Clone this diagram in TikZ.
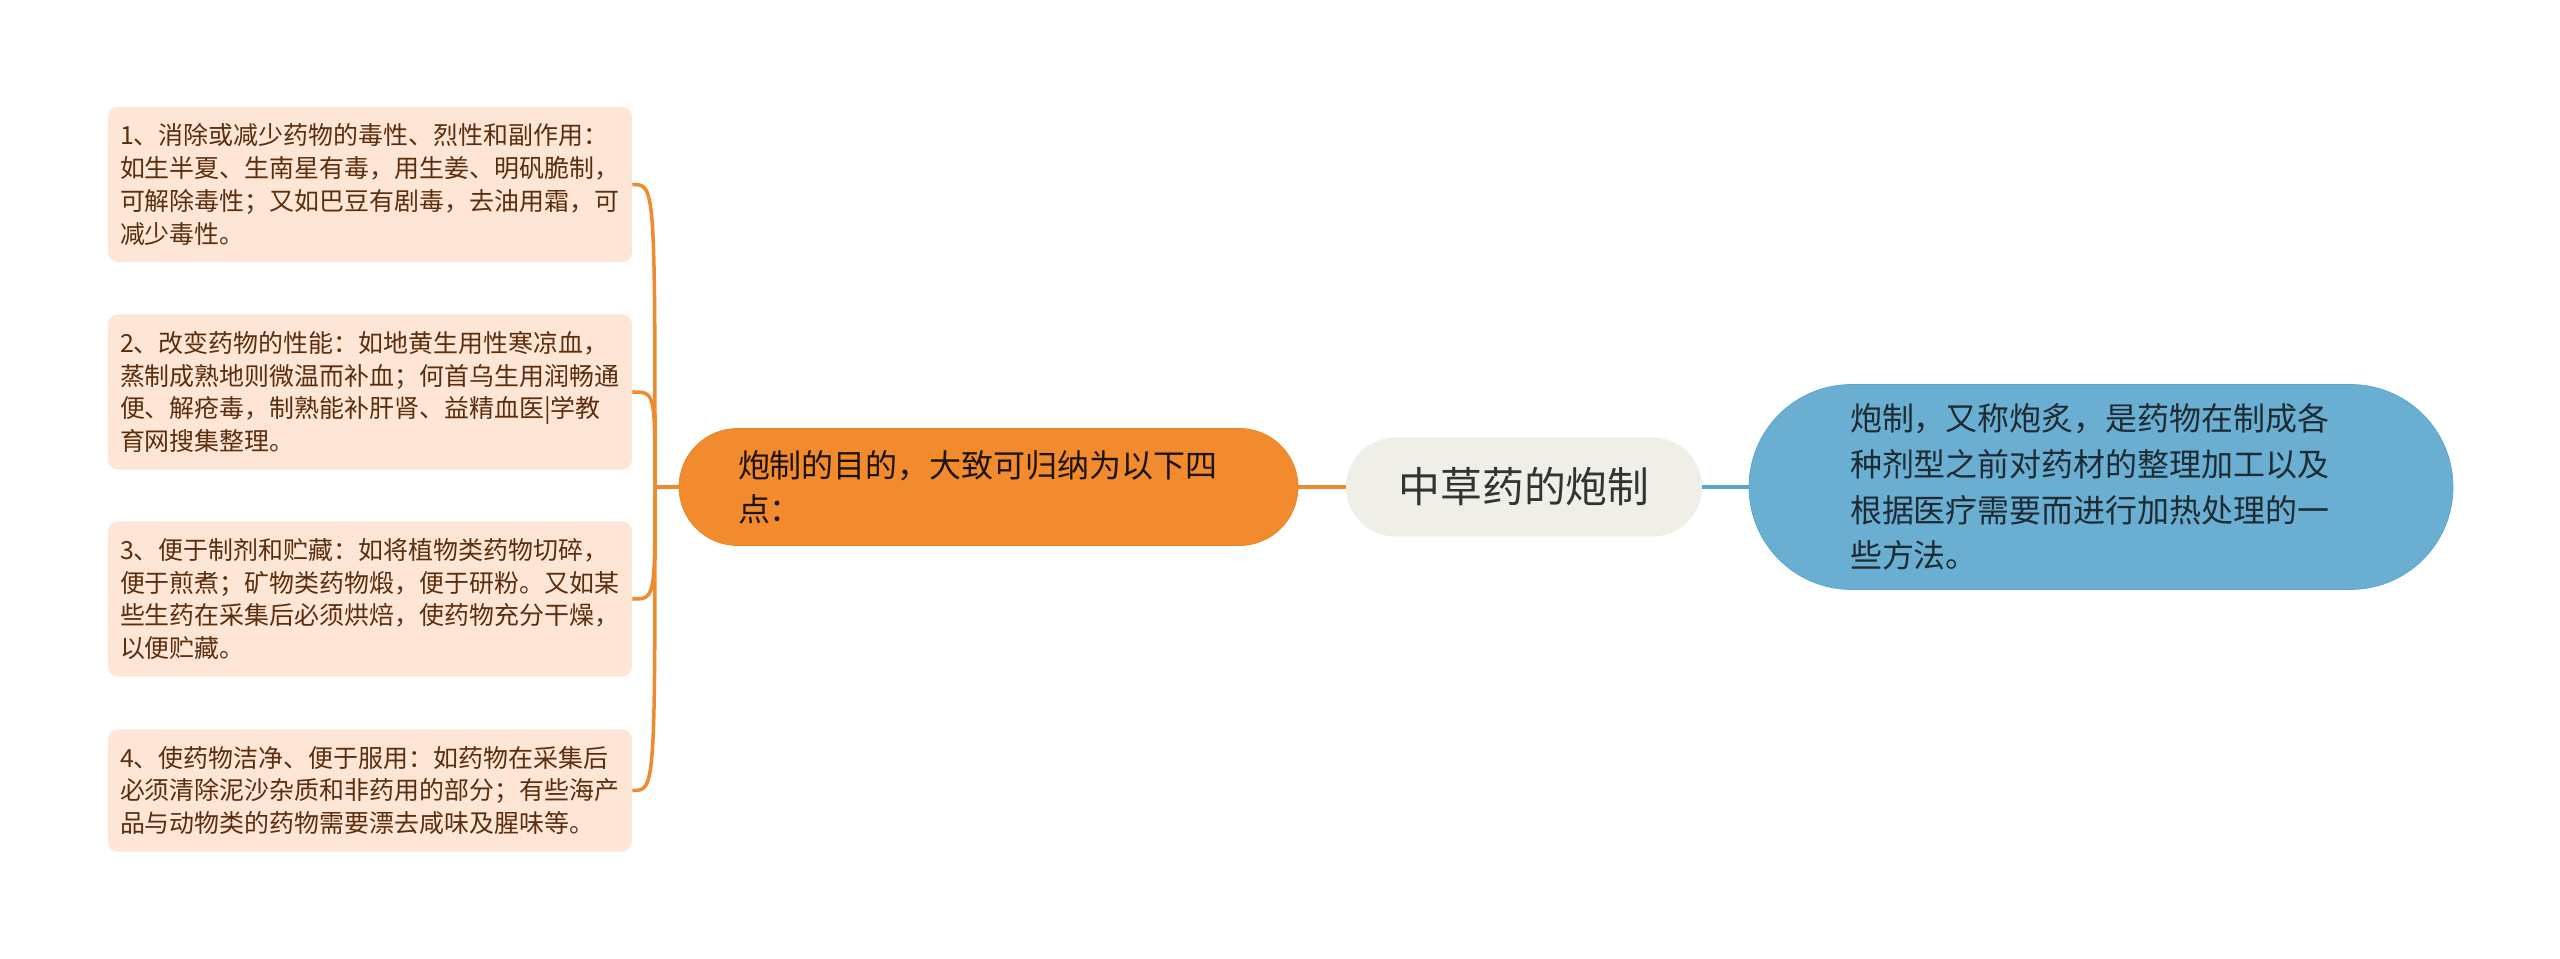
\documentclass[tikz,border=0pt]{standalone}
\usepackage{fontspec}
\setmainfont{Noto Sans CJK SC}
\usepackage{xcolor}
\usepackage{tikz}
\usetikzlibrary{positioning}
\definecolor{leaffill}{HTML}{FDE6D5}
\definecolor{leaftext}{HTML}{5C2E0E}
\definecolor{orline}{HTML}{EF8A2F}
\definecolor{mainfill}{HTML}{F28B2D}
\definecolor{rootfill}{HTML}{EFEFE7}
\definecolor{bluefill}{HTML}{6AAFD2}
\definecolor{blueline}{HTML}{5AA5CF}
\definecolor{bluetext}{HTML}{1E2B33}

\begin{document}
\begin{tikzpicture}[
  leaf/.style={rectangle,fill=leaffill,rounded corners=0.2cm,text=leaftext,
    text width=10cm,align=left,inner xsep=0.24cm,inner ysep=0.34cm,
    minimum width=10.48cm,font=\fontsize{14.2pt}{18.6pt}\selectfont},
  topic/.style={rectangle,fill=mainfill,draw=mainfill!95!black,rounded corners=1.17cm,
    minimum width=12.38cm,minimum height=2.34cm,text width=10.02cm,align=left,
    inner xsep=1.18cm,text=black!85!brown,font=\fontsize{18.2pt}{25pt}\selectfont},
  root/.style={rectangle,fill=rootfill,rounded corners=0.99cm,minimum width=7.12cm,
    minimum height=1.98cm,text=black!80,font=\fontsize{23.8pt}{28pt}\selectfont},
  defn/.style={rectangle,fill=bluefill,draw=blueline,rounded corners=2.05cm,
    minimum width=14.08cm,minimum height=4.1cm,text width=10.04cm,align=left,
    inner xsep=2.02cm,text=bluetext,font=\fontsize{18.2pt}{26pt}\selectfont},
  branch/.style={draw=orline,line width=2pt}]
  \useasboundingbox (0,0) rectangle (51.2,19.16);
  % centre
  \node[root] (zcy) at (30.48,9.42) {中草药的炮制};
  \node[topic] (md) at (19.77,9.42) {炮制的目的，大致可归纳为以下四\\点：};
  \node[defn] (dy) at (42.02,9.42) {炮制，又称炮炙，是药物在制成各\\种剂型之前对药材的整理加工以及\\根据医疗需要而进行加热处理的一\\些方法。};
  \draw[branch] (zcy) -- (md);
  \draw[draw=blueline,line width=2pt] (zcy) -- (dy);
  % four purposes
  \node[leaf] (p1) at (7.40,15.47) {1、消除或减少药物的毒性、烈性和副作用：\\如生半夏、生南星有毒，用生姜、明矾脆制，\\可解除毒性；又如巴豆有剧毒，去油用霜，可\\减少毒性。};
  \node[leaf] (p2) at (7.40,11.32) {2、改变药物的性能：如地黄生用性寒凉血，\\蒸制成熟地则微温而补血；何首乌生用润畅通\\便、解疮毒，制熟能补肝肾、益精血医|学教\\育网搜集整理。};
  \node[leaf] (p3) at (7.40,7.18) {3、便于制剂和贮藏：如将植物类药物切碎，\\便于煎煮；矿物类药物煅，便于研粉。又如某\\些生药在采集后必须烘焙，使药物充分干燥，\\以便贮藏。};
  \node[leaf] (p4) at (7.40,3.35) {4、使药物洁净、便于服用：如药物在采集后\\必须清除泥沙杂质和非药用的部分；有些海产\\品与动物类的药物需要漂去咸味及腥味等。};
  \coordinate (hub) at (13.1,9.42);
  \draw[branch] (md.west) -- (hub);
  \foreach \p in {p1,p2,p3,p4}
    \draw[branch] (hub) .. controls (hub |- \p.east) and (hub |- \p.east) .. (\p.east);
\end{tikzpicture}
\end{document}
